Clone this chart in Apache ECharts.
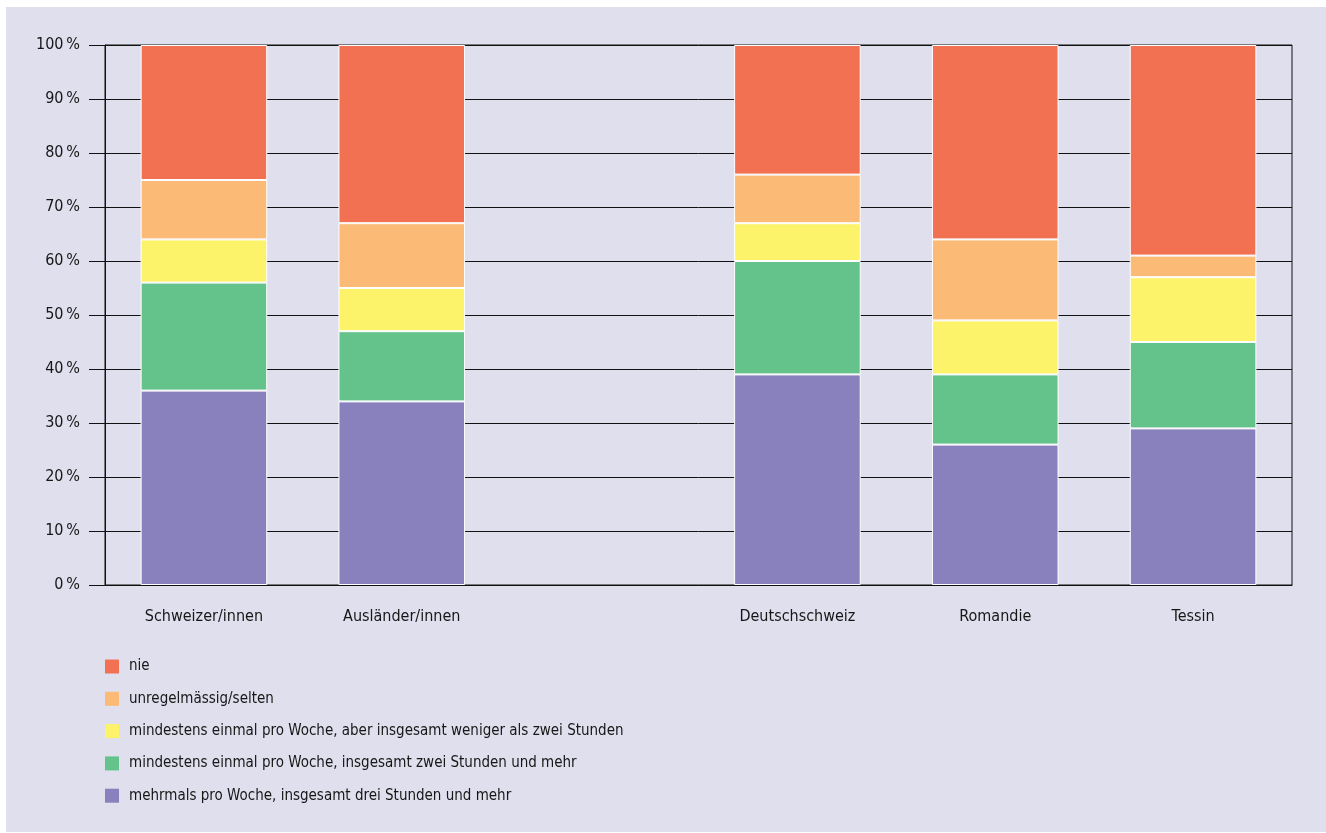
<!DOCTYPE html>
<html>
<head>
<meta charset="utf-8">
<script src="https://cdn.jsdelivr.net/npm/echarts@6/dist/echarts.min.js"></script>
<style>
  html, body { margin: 0; padding: 0; background: #ffffff; }
  #frame { position: absolute; left: 6px; top: 7px; width: 1320px; height: 825px; background: #e0dfee; }
  #chart { position: absolute; left: 0; top: 0; width: 1326px; height: 833px; }
</style>
</head>
<body>
<div id="frame"></div>
<div id="chart"></div>
<script>
// Groups along the x axis (blank slot separates nationality from language region)
const categories = ['Schweizer/innen', 'Ausländer/innen', '', 'Deutschschweiz', 'Romandie', 'Tessin'];

// Shares in percent, stacked bottom to top
const mehrmals   = [36, 34, null, 39, 26, 29];
const zweiMehr   = [20, 13, null, 21, 13, 16];
const wenigerZwei= [ 8,  8, null,  7, 10, 12];
const selten     = [11, 12, null,  9, 15,  4];
const nie        = [25, 33, null, 24, 36, 39];

const seriesNames = [
  'mehrmals pro Woche, insgesamt drei Stunden und mehr',
  'mindestens einmal pro Woche, insgesamt zwei Stunden und mehr',
  'mindestens einmal pro Woche, aber insgesamt weniger als zwei Stunden',
  'unregelmässig/selten',
  'nie'
];
const seriesData = [mehrmals, zweiMehr, wenigerZwei, selten, nie];
const colors = ['#8881bd', '#64c28b', '#fdf36b', '#fbba75', '#f27153'];

const yTicks = [0, 10, 20, 30, 40, 50, 60, 70, 80, 90, 100];

const font = '"Liberation Sans Narrow", "DejaVu Sans Condensed", "Liberation Sans", sans-serif';

const chart = echarts.init(document.getElementById('chart'));
chart.setOption({
  backgroundColor: 'transparent',
  animation: false,
  textStyle: { fontFamily: font },
  grid: {
    left: 105, right: 34, top: 45, bottom: 248,
    show: true, borderColor: '#111', borderWidth: 1
  },
  legend: {
    orient: 'vertical',
    left: 105, top: 659,
    padding: 0,
    itemWidth: 14, itemHeight: 14, itemGap: 17.3,
    icon: 'rect',
    itemStyle: { borderWidth: 0 },
    data: seriesNames.slice().reverse(),
    textStyle: { fontFamily: font, fontSize: 15, lineHeight: 14, color: '#161616', padding: [0, 0, 0, 5] }
  },
  xAxis: {
    type: 'category',
    data: categories,
    axisLine: { show: true, lineStyle: { color: '#111', width: 1 } },
    axisTick: { show: false },
    axisLabel: { margin: 24, fontSize: 16, color: '#161616', fontFamily: font }
  },
  yAxis: {
    type: 'value',
    min: 0, max: 100, interval: 10,
    axisLine: { show: true, lineStyle: { color: '#111', width: 1 } },
    axisTick: { show: true, inside: false, length: 16, lineStyle: { color: '#111', width: 1 } },
    splitLine: { show: true, lineStyle: { color: '#111', width: 1 } },
    axisLabel: {
      margin: 25, fontSize: 16, color: '#161616', fontFamily: font,
      formatter: v => (yTicks.includes(v) ? v + '\u2009%' : '')
    }
  },
  series: seriesData.map((d, i) => ({
    name: seriesNames[i],
    type: 'bar',
    stack: 'total',
    barWidth: '64%',
    data: d,
    itemStyle: { color: colors[i], borderColor: '#ffffff', borderWidth: 1 }
  }))
});
</script>
</body>
</html>
